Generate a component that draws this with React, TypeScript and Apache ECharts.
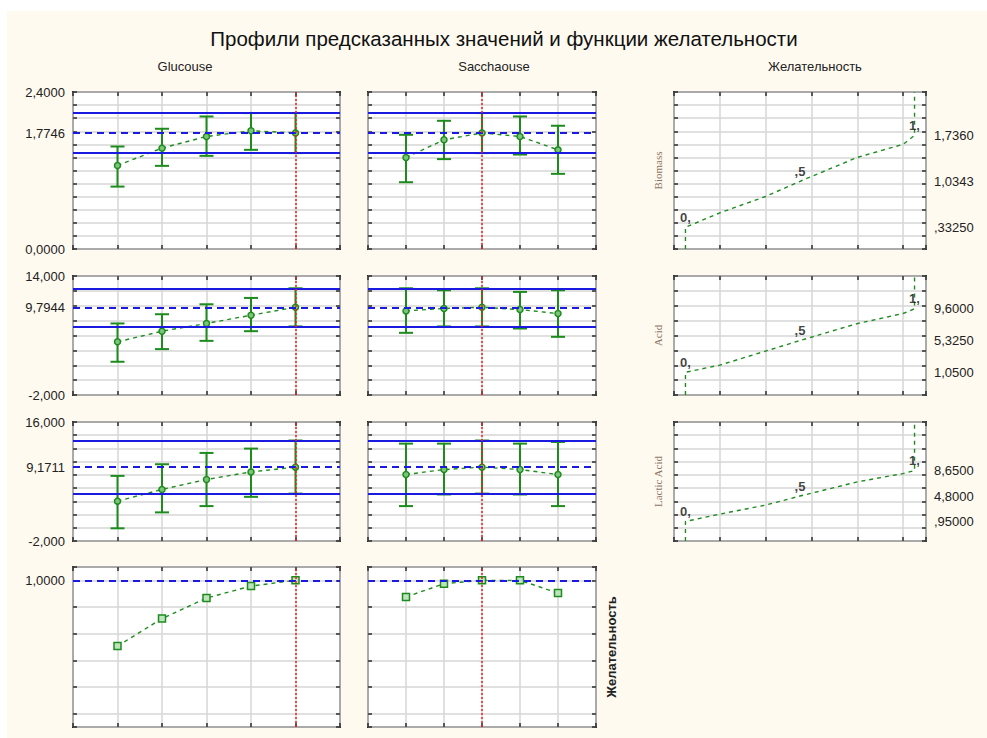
import React, { useEffect, useRef } from 'react';
import * as echarts from 'echarts';

// ---------- data ----------
const levels = [1, 2, 3, 4, 5];
const glucoseCurrent = 5;
const saccharoseCurrent = 3;

const biomassGlu = [1.276, 1.542, 1.72, 1.807, 1.7746];
const biomassGluLow = [0.954, 1.271, 1.424, 1.516, 1.466];
const biomassGluHigh = [1.567, 1.838, 2.026, 2.078, 2.078];
const biomassSac = [1.398, 1.669, 1.7746, 1.72, 1.516];
const biomassSacLow = [1.021, 1.374, 1.466, 1.444, 1.149];
const biomassSacHigh = [1.746, 1.96, 2.078, 2.026, 1.884];

const acidGlu = [5.15, 6.58, 7.62, 8.73, 9.7944];
const acidGluLow = [2.47, 4.17, 5.28, 6.58, 7.22];
const acidGluHigh = [7.62, 8.86, 10.2, 11.05, 12.35];
const acidSac = [9.31, 9.63, 9.7944, 9.49, 8.95];
const acidSacLow = [6.36, 7.22, 7.22, 6.94, 5.82];
const acidSacHigh = [12.35, 12.08, 12.35, 11.86, 12.08];

const lacticGlu = [4.03, 5.8, 7.3, 8.45, 9.1711];
const lacticGluLow = [-0.08, 2.33, 3.28, 4.68, 5.17];
const lacticGluHigh = [7.85, 9.61, 11.32, 11.98, 13.2];
const lacticSac = [8.06, 8.81, 9.1711, 8.81, 8.06];
const lacticSacLow = [3.28, 5.04, 5.17, 5.04, 3.28];
const lacticSacHigh = [12.73, 12.73, 13.2, 12.73, 12.98];

const desirGlu = [0.507, 0.713, 0.867, 0.957, 1.0];
const desirSac = [0.875, 0.975, 1.0, 1.0, 0.905];

const responseNames = ['Biomass', 'Acid', 'Lactic Acid'];
const yRanges = [
  [0, 2.4, 0.2],
  [-2, 14, 2],
  [-2, 16, 2],
];
const leftTickLabels = [
  ['0,0000', '2,4000'],
  ['-2,000', '14,000'],
  ['-2,000', '16,000'],
];
const refMeans = [1.7746, 9.7944, 9.1711];
const refMeanLabels = ['1,7746', '9,7944', '9,1711'];
const refLow = [1.466, 7.22, 5.17];
const refHigh = [2.078, 12.35, 13.2];

const desirabilityX = [0, 0.15, 0.35, 0.5, 0.75, 0.95, 1];
const biomassCurve = [0.3325, 0.553, 0.803, 1.0343, 1.4, 1.6, 1.736];
const acidCurve = [1.05, 2.02, 3.9, 5.325, 7.6, 8.96, 9.6];
const lacticCurve = [0.95, 2.07, 3.43, 4.8, 6.94, 8.2, 8.65];
const curveLabelIdx = [0, 3, 6];
const curveLabels = ['0,', ',5', '1,'];
const rightLabelValues = [
  [1.736, 1.0343, 0.3325],
  [9.6, 5.325, 1.05],
  [8.65, 4.8, 0.95],
];
const rightLabels = [
  ['1,7360', '1,0343', ',33250'],
  ['9,6000', '5,3250', '1,0500'],
  ['8,6500', '4,8000', ',95000'],
];
const desirMeanLabel = '1,0000';

const mainTitle = 'Профили предсказанных значений и функции желательности';
const colTitles = ['Glucouse', 'Sacchaouse', 'Желательность'];
const desirAxisName = 'Желательность';

// ---------- style ----------
const CREAM = '#fffaf0';
const BORDER = '#2b2b2b';
const GRIDC = '#d6d6d6';
const GREEN = '#1d8c1d';
const BLUE = '#1a1ae0';
const RED = '#ff1a1a';
const TXT = '#222';
const FONT = '"Liberation Sans", Arial, sans-serif';

const cols = [
  { left: 73, width: 267 },
  { left: 368, width: 228 },
  { left: 674, width: 252 },
];
const rows = [
  { top: 92, height: 157 },
  { top: 276, height: 119 },
  { top: 422, height: 119 },
  { top: 567, height: 160 },
];

function buildOption() {
  const option: any = {
    animation: false,
    backgroundColor: CREAM,
    grid: [],
    xAxis: [],
    yAxis: [],
    series: [],
    graphic: [],
  };

  const tick = () => ({ show: true, inside: true, length: 4, lineStyle: { color: BORDER, width: 1.5 } });
  const split = () => ({ show: true, lineStyle: { color: GRIDC, width: 1.5, type: 'solid' } });
  const noLine = () => ({ show: false, onZero: false });

  function addPanel(r: number, c: number, x: any, y: any) {
    const gi = option.grid.length;
    option.grid.push({
      left: cols[c].left, top: rows[r].top, width: cols[c].width, height: rows[r].height,
      show: true, backgroundColor: '#ffffff', borderColor: BORDER, borderWidth: 2,
    });
    const xBase = () => ({ type: 'value', gridIndex: gi, min: x.min, max: x.max, interval: x.interval,
      axisLine: noLine(), axisTick: tick(), axisLabel: { show: false } });
    option.xAxis.push({ ...xBase(), position: 'bottom', splitLine: split() });
    option.xAxis.push({ ...xBase(), position: 'top', splitLine: { show: false } });
    const yBase = () => {
      const o: any = { type: 'value', gridIndex: gi, min: y.min, max: y.max,
        axisLine: noLine(), axisTick: tick() };
      if (y.interval !== undefined) o.interval = y.interval;
      return o;
    };
    const left: any = { ...yBase(), position: 'left', splitLine: split(), axisLabel: { show: false } };
    if (y.labels) {
      const lbl = y.labels;
      left.axisLabel = {
        show: true, margin: 8, fontSize: 13, color: TXT, fontFamily: FONT,
        showMinLabel: true, showMaxLabel: true,
        formatter: (v: number) => Math.abs(v - y.min) < 1e-9 ? lbl[0] : Math.abs(v - y.max) < 1e-9 ? lbl[1] : '',
      };
    }
    if (y.name) {
      left.name = y.name; left.nameLocation = 'middle'; left.nameGap = 11; left.nameRotate = 90;
      left.nameTextStyle = { fontFamily: '"Liberation Serif", "Times New Roman", serif', fontSize: 11, color: '#8b7462' };
    }
    option.yAxis.push(left);
    const right: any = { ...yBase(), position: 'right', splitLine: { show: false }, axisLabel: { show: false } };
    if (y.rightName) {
      right.name = y.rightName; right.nameLocation = 'middle'; right.nameGap = 9; right.nameRotate = 90;
      right.nameTextStyle = { fontFamily: FONT, fontSize: 13, fontWeight: 'bold', color: TXT };
    }
    option.yAxis.push(right);
    return { xAxisIndex: gi * 2, yAxisIndex: gi * 2 };
  }

  const errorBarRender = (params: any, api: any) => {
    const x = api.value(0);
    const pLo = api.coord([x, api.value(1)]);
    const pHi = api.coord([x, api.value(2)]);
    const w = 7;
    const style = { stroke: GREEN, lineWidth: 2 };
    return {
      type: 'group',
      children: [
        { type: 'line', shape: { x1: pLo[0], y1: pLo[1], x2: pHi[0], y2: pHi[1] }, style },
        { type: 'line', shape: { x1: pLo[0] - w, y1: pLo[1], x2: pLo[0] + w, y2: pLo[1] }, style },
        { type: 'line', shape: { x1: pHi[0] - w, y1: pHi[1], x2: pHi[0] + w, y2: pHi[1] }, style },
      ],
    };
  };

  function profilePanel(r: number, c: number, mean: number[], lo: number[], hi: number[], current: number) {
    const [ymin, ymax, yint] = yRanges[r];
    const ax = addPanel(r, c, { min: 0, max: 6, interval: 1 },
      { min: ymin, max: ymax, interval: yint, labels: c === 0 ? leftTickLabels[r] : null });
    const mlLabel = c === 0
      ? { show: true, position: 'start', distance: 8, formatter: refMeanLabels[r], color: TXT, fontSize: 13, fontFamily: FONT }
      : { show: false };
    option.series.push({
      type: 'line', ...ax, data: [[current, refMeans[r]]], symbol: 'none', lineStyle: { opacity: 0 }, z: 2,
      silent: true,
      markLine: {
        silent: true, symbol: ['none', 'none'], label: { show: false },
        data: [
          { yAxis: refHigh[r], lineStyle: { color: BLUE, type: 'solid', width: 2 } },
          { yAxis: refLow[r], lineStyle: { color: BLUE, type: 'solid', width: 2 } },
          { yAxis: refMeans[r], lineStyle: { color: BLUE, type: [7, 5], width: 2 }, label: mlLabel },
          { xAxis: current, lineStyle: { color: RED, type: [2, 2], width: 1.5 } },
        ],
      },
    });
    option.series.push({
      type: 'custom', ...ax, z: 3, silent: true,
      data: levels.map((l, i) => [l, lo[i], hi[i]]),
      encode: { x: 0, y: [1, 2] },
      renderItem: errorBarRender,
    });
    option.series.push({
      type: 'line', ...ax, z: 4, silent: true,
      data: levels.map((l, i) => [l, mean[i]]),
      lineStyle: { color: GREEN, width: 1.4, type: [4, 4] },
      symbol: 'circle', symbolSize: 6,
      itemStyle: { color: '#7cc47c', borderColor: GREEN, borderWidth: 1.5 },
    });
  }

  function desirPanel(r: number, curve: number[]) {
    const [ymin, ymax, yint] = yRanges[r];
    const ax = addPanel(r, 2, { min: -0.05, max: 1.05, interval: 0.2 },
      { min: ymin, max: ymax, interval: yint, name: responseNames[r] });
    const pts = desirabilityX.map((d, i) => [d, curve[i]]);
    option.series.push({
      type: 'line', ...ax, z: 3, silent: true,
      data: [[0, ymin], ...pts, [1, ymax]],
      symbol: 'none',
      lineStyle: { color: GREEN, width: 1.4, type: [4, 4] },
    });
    option.series.push({
      type: 'scatter', ...ax, z: 4, silent: true,
      data: curveLabelIdx.map((i) => pts[i]),
      symbol: 'circle', symbolSize: 1,
      itemStyle: { color: 'transparent' },
      label: {
        show: true, position: 'top', distance: 3, fontSize: 13, fontWeight: 'bold', color: '#111', fontFamily: FONT,
        formatter: (p: any) => curveLabels[p.dataIndex],
      },
      markLine: {
        silent: true, symbol: ['none', 'none'],
        lineStyle: { color: 'transparent', width: 0 },
        data: rightLabelValues[r].map((v, i) => ({
          yAxis: v,
          label: { show: true, position: 'end', distance: 8, formatter: rightLabels[r][i], color: TXT, fontSize: 13, fontFamily: FONT },
        })),
      },
    });
  }

  function desirabilityRow(c: number, vals: number[], current: number) {
    const ax = addPanel(3, c, { min: 0, max: 6, interval: 1 },
      { min: -0.1, max: 1.1, rightName: c === 1 ? desirAxisName : undefined });
    option.series.push({
      type: 'line', ...ax, data: [[current, 1]], symbol: 'none', lineStyle: { opacity: 0 }, z: 2, silent: true,
      markLine: {
        silent: true, symbol: ['none', 'none'], label: { show: false },
        data: [
          { yAxis: 1, lineStyle: { color: BLUE, type: [7, 5], width: 2 },
            label: c === 0 ? { show: true, position: 'start', distance: 8, formatter: desirMeanLabel, color: TXT, fontSize: 13, fontFamily: FONT } : { show: false } },
          { xAxis: current, lineStyle: { color: RED, type: [2, 2], width: 1.5 } },
        ],
      },
    });
    option.series.push({
      type: 'line', ...ax, z: 4, silent: true,
      data: levels.map((l, i) => [l, vals[i]]),
      lineStyle: { color: GREEN, width: 1.4, type: [4, 4] },
      symbol: 'rect', symbolSize: 7,
      itemStyle: { color: '#bfe3bf', borderColor: GREEN, borderWidth: 1.5 },
    });
  }

  const gluData = [
    [biomassGlu, biomassGluLow, biomassGluHigh],
    [acidGlu, acidGluLow, acidGluHigh],
    [lacticGlu, lacticGluLow, lacticGluHigh],
  ];
  const sacData = [
    [biomassSac, biomassSacLow, biomassSacHigh],
    [acidSac, acidSacLow, acidSacHigh],
    [lacticSac, lacticSacLow, lacticSacHigh],
  ];
  const curves = [biomassCurve, acidCurve, lacticCurve];
  for (let r = 0; r < 3; r++) {
    profilePanel(r, 0, gluData[r][0], gluData[r][1], gluData[r][2], glucoseCurrent);
    profilePanel(r, 1, sacData[r][0], sacData[r][1], sacData[r][2], saccharoseCurrent);
    desirPanel(r, curves[r]);
  }
  desirabilityRow(0, desirGlu, glucoseCurrent);
  desirabilityRow(1, desirSac, saccharoseCurrent);

  option.graphic = [
    { type: 'rect', shape: { x: 0, y: 0, width: 7, height: 738 }, style: { fill: '#ffffff' }, silent: true },
    { type: 'rect', shape: { x: 0, y: 0, width: 987, height: 11 }, style: { fill: '#ffffff' }, silent: true },
    { type: 'text', x: 504, y: 38, style: { text: mainTitle, fontSize: 20.5, fontFamily: FONT, fill: '#111', align: 'center', verticalAlign: 'middle' } },
    { type: 'text', x: 185, y: 66, style: { text: colTitles[0], fontSize: 13, fontFamily: FONT, fill: TXT, align: 'center', verticalAlign: 'middle' } },
    { type: 'text', x: 494, y: 66, style: { text: colTitles[1], fontSize: 13, fontFamily: FONT, fill: TXT, align: 'center', verticalAlign: 'middle' } },
    { type: 'text', x: 815, y: 66, style: { text: colTitles[2], fontSize: 13, fontFamily: FONT, fill: TXT, align: 'center', verticalAlign: 'middle' } },
  ];
  return option;
}

export default function App() {
  const ref = useRef<HTMLDivElement>(null);
  useEffect(() => {
    const chart = echarts.init(ref.current!, null, { renderer: 'svg' });
    chart.setOption(buildOption());
    return () => chart.dispose();
  }, []);
  return <div ref={ref} style={{ position: 'fixed', left: 0, top: 0, width: 987, height: 738 }} />;
}
